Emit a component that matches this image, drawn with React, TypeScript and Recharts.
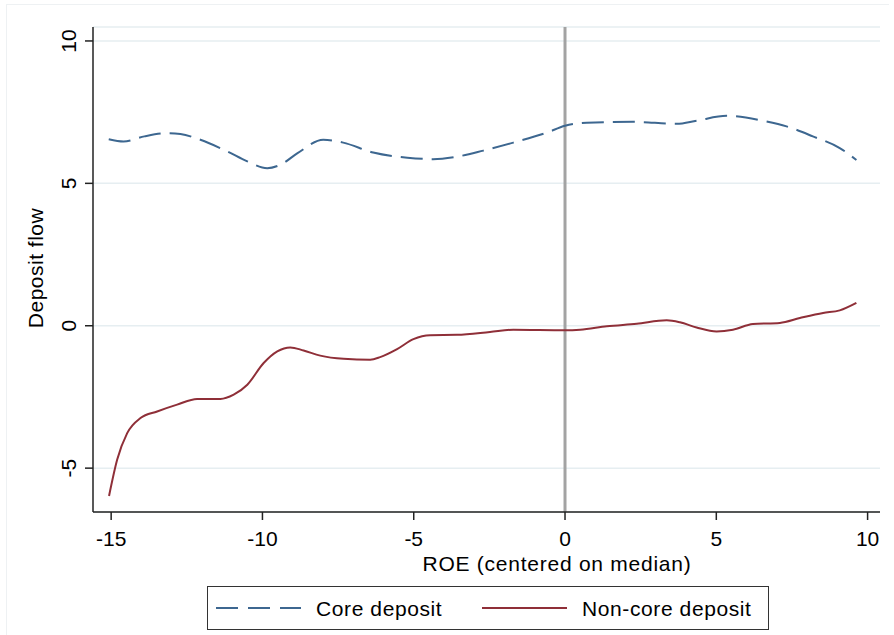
import React from 'react';
import { LineChart, Line, XAxis, YAxis, CartesianGrid, ReferenceLine } from 'recharts';

// Core deposit (dashed navy)
const coreX = [-15.08, -14.59, -13.9, -13.14, -12.71, -12.05, -11.16, -10.5, -9.84, -9.41, -8.84, -7.99, -7.33, -6.34, -5.21, -4.36, -3.56, -2.7, -1.71, -0.6, 0, 0.72, 2.25, 3.69, 4.35, 5.34, 6.66, 7.32, 8.19, 9.08, 9.63];
const coreY = [6.55, 6.47, 6.65, 6.76, 6.73, 6.53, 6.12, 5.77, 5.53, 5.65, 6.06, 6.53, 6.43, 6.08, 5.9, 5.85, 5.94, 6.15, 6.43, 6.78, 7.02, 7.13, 7.16, 7.09, 7.2, 7.37, 7.17, 7.0, 6.65, 6.24, 5.82];

// Non-core deposit (solid maroon)
const nonCoreX = [-15.07, -14.8, -14.47, -14.03, -13.48, -12.82, -12.16, -11.39, -10.95, -10.5, -9.96, -9.51, -9.08, -8.64, -8.09, -7.32, -6.44, -6.11, -5.55, -5.01, -4.46, -3.57, -2.48, -1.71, 0, 0.5, 1.38, 2.37, 3.36, 3.8, 4.35, 5.01, 5.55, 6.21, 7.1, 7.76, 8.53, 9.08, 9.63];
const nonCoreY = [-5.98, -4.7, -3.77, -3.24, -3.01, -2.77, -2.57, -2.57, -2.42, -2.07, -1.31, -0.9, -0.76, -0.87, -1.05, -1.16, -1.19, -1.1, -0.82, -0.47, -0.33, -0.32, -0.22, -0.14, -0.16, -0.14, -0.02, 0.07, 0.19, 0.12, -0.06, -0.2, -0.14, 0.06, 0.1, 0.27, 0.45, 0.54, 0.8];

const xTicks = [-15, -10, -5, 0, 5, 10];
const yTicks = [-5, 0, 5, 10];

const FONT = '"Liberation Sans", Arial, sans-serif';
const BLUE = '#3d6790';
const RED = '#8f2f38';

const coreData = coreX.map((x, i) => ({ x, y: coreY[i] }));
const nonCoreData = nonCoreX.map((x, i) => ({ x, y: nonCoreY[i] }));

const XTick = ({ x, y, payload }: any) => (
  <text x={x} y={y} dy={24} textAnchor="middle" fontSize={21} fontFamily={FONT} fill="#000">
    {payload.value}
  </text>
);

const YTick = ({ x, y, payload }: any) => {
  const bx = x - 7;
  return (
    <text x={bx} y={y} transform={`rotate(-90 ${bx} ${y})`} textAnchor="middle" fontSize={21} fontFamily={FONT} fill="#000">
      {payload.value}
    </text>
  );
};

const XTitle = () => (
  <text x={557} y={571} textAnchor="middle" fontSize={21} letterSpacing={0.75} fontFamily={FONT} fill="#000">
    ROE (centered on median)
  </text>
);

const YTitle = () => (
  <text x={43} y={268} transform="rotate(-90 43 268)" textAnchor="middle" fontSize={21} letterSpacing={0.5} fontFamily={FONT} fill="#000">
    Deposit flow
  </text>
);

export default function App() {
  return (
    <div style={{ position: 'absolute', left: 0, top: 0, width: 894, height: 635, background: '#fff', overflow: 'hidden' }}>
      <div style={{ position: 'absolute', left: 6, top: 4, width: 882, height: 640, borderTop: '1px solid #eef1f3', borderLeft: '1px solid #eef1f3' }} />
      <LineChart width={894} height={635} margin={{ top: 27, right: 14, bottom: 0, left: 0 }}>
        <CartesianGrid vertical={false} stroke="#e6eef1" strokeWidth={1.5} />
        <XAxis
          type="number"
          dataKey="x"
          domain={[-15.6, 10.41]}
          ticks={xTicks}
          allowDataOverflow
          height={123}
          tickSize={8}
          tick={<XTick />}
          axisLine={{ stroke: '#222', strokeWidth: 1.5 }}
          tickLine={{ stroke: '#222', strokeWidth: 1.5 }}
          label={<XTitle />}
        />
        <YAxis
          type="number"
          dataKey="y"
          domain={[-6.54, 10.49]}
          ticks={yTicks}
          allowDataOverflow
          width={93}
          tickSize={8}
          tick={<YTick />}
          axisLine={{ stroke: '#222', strokeWidth: 1.5 }}
          tickLine={{ stroke: '#222', strokeWidth: 1.5 }}
          label={<YTitle />}
        />
        <ReferenceLine x={0} stroke="#a3a3a3" strokeWidth={3} />
        <Line
          data={coreData}
          dataKey="y"
          type="monotone"
          stroke={BLUE}
          strokeWidth={2}
          strokeDasharray="22 9"
          dot={false}
          activeDot={false}
          isAnimationActive={false}
        />
        <Line
          data={nonCoreData}
          dataKey="y"
          type="monotone"
          stroke={RED}
          strokeWidth={2}
          dot={false}
          activeDot={false}
          isAnimationActive={false}
        />
      </LineChart>
      <div
        style={{
          position: 'absolute',
          left: 207,
          top: 586,
          width: 560,
          height: 42,
          border: '1px solid #333',
        }}
      >
        <svg width={560} height={42} style={{ position: 'absolute', left: 0, top: 0 }}>
          <line x1={8} y1={21} x2={93} y2={21} stroke={BLUE} strokeWidth={2} strokeDasharray="22 10" />
          <text x={108} y={29} fontSize={21} letterSpacing={0.6} fontFamily={FONT} fill="#000">Core deposit</text>
          <line x1={274} y1={21} x2={359} y2={21} stroke={RED} strokeWidth={2} />
          <text x={374} y={29} fontSize={21} letterSpacing={0.6} fontFamily={FONT} fill="#000">Non-core deposit</text>
        </svg>
      </div>
    </div>
  );
}
